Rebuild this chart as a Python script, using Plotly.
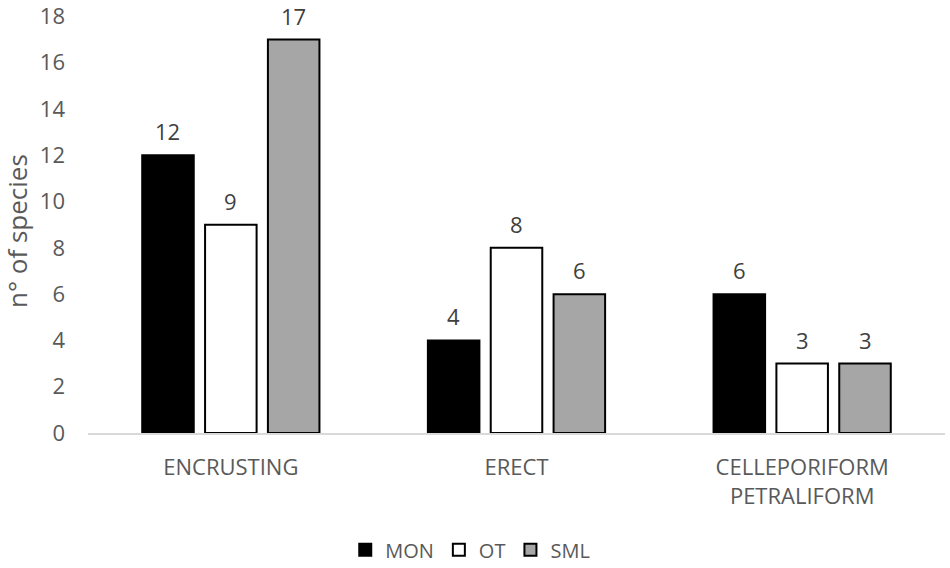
import plotly.graph_objects as go

categories = ["ENCRUSTING", "ERECT", "CELLEPORIFORM<br>PETRALIFORM"]
series_names = ["MON", "OT", "SML"]
mon = [12, 4, 6]
ot = [9, 8, 3]
sml = [17, 6, 3]
y_ticks = list(range(0, 19, 2))

fills = ["#000000", "#ffffff", "#a6a6a6"]
BARGAP = 0.34
BARGROUPGAP = 0.18

fig = go.Figure()
for name, vals, col in zip(series_names, [mon, ot, sml], fills):
    fig.add_trace(go.Bar(
        name=name, x=categories, y=vals,
        marker=dict(color=col, line=dict(color="#000000", width=2)),
    ))

ML, MR, MT, MB = 88, 5, 16, 135
W, H = 950, 568
cat_px = (W - ML - MR) / len(categories)
slot_px = cat_px * (1 - BARGAP) / len(series_names)
for i, vals in enumerate([mon, ot, sml]):
    offset = (i - (len(series_names) - 1) / 2) * slot_px
    for c, v in zip(categories, vals):
        fig.add_annotation(x=c, y=v, text=str(v), showarrow=False,
                           xanchor="center", yanchor="bottom", xshift=offset, yshift=7,
                           font=dict(family="Open Sans", size=22, color="#404040"))

# y-axis title placed as a rotated annotation
fig.add_annotation(text="n° of species", xref="paper", yref="paper",
                   x=-0.083, y=0.484, xanchor="center", yanchor="middle",
                   textangle=-90, showarrow=False,
                   font=dict(family="Open Sans", size=26, color="#595959"))

fig.update_layout(
    width=W, height=H,
    paper_bgcolor="white", plot_bgcolor="white",
    barmode="group", bargap=BARGAP, bargroupgap=BARGROUPGAP,
    margin=dict(l=ML, r=MR, t=MT, b=MB, autoexpand=False),
    font=dict(family="Open Sans", color="#595959"),
    showlegend=True,
    legend=dict(orientation="h", xref="container", yref="container",
                x=0.495, xanchor="center", y=0.032, yanchor="middle",
                font=dict(size=20, color="#595959"), traceorder="normal"),
    xaxis=dict(showline=True, linecolor="#d9d9d9", linewidth=2, showgrid=False,
               ticks="", ticklabelstandoff=14, tickfont=dict(size=22, color="#595959")),
    yaxis=dict(range=[0, 18.02], tickvals=y_ticks, showgrid=False, zeroline=False,
               showline=False, ticks="", ticklabelstandoff=22,
               tickfont=dict(size=22, color="#595959")),
)

fig.write_html("out.html", config={"displayModeBar": False},
               post_script="document.body.style.margin='0px';")
